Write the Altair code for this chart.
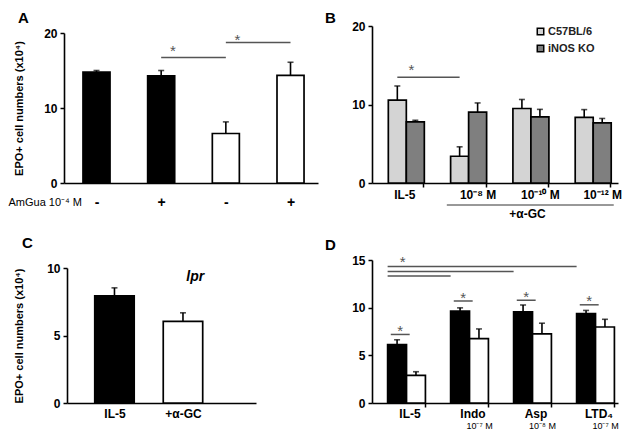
import json
import altair as alt
import pandas as pd

FONT = "Liberation Sans"
W = 245
H = 200

# ---------------- Panel A ----------------
a_ticks = ["-", "+", "-", "+"]
a_values = [14.8, 14.3, 6.6, 14.35]
a_err = [0.2, 0.7, 1.55, 1.75]
a_fill = ["black", "black", "white", "white"]
a_sig_from = [1, 2]
a_sig_to = [2, 3]
a_sig_y = [16.75, 18.75]
a_star_y = [18.0, 19.5]

# ---------------- Panel B ----------------
b_groups = ["IL-5", "10⁻⁸ M", "10⁻¹⁰ M", "10⁻¹² M"]
b_series = ["C57BL/6", "iNOS KO"]
b_wt = [10.56, 3.41, 9.49, 8.35]
b_wt_err = [1.8, 1.2, 1.15, 1.0]
b_ko = [7.79, 9.03, 8.43, 7.66]
b_ko_err = [0.2, 1.17, 0.95, 0.56]
b_sig_from = [0]
b_sig_to = [1]
b_sig_y = [13.46]
b_star_y = [14.8]
b_bracket_label = "+α-GC"

# ---------------- Panel C ----------------
c_groups = ["IL-5", "+α-GC"]
c_values = [7.93, 6.04]
c_err = [0.6, 0.64]
c_fill = ["black", "white"]
c_note = "lpr"

# ---------------- Panel D ----------------
d_groups = ["IL-5", "Indo", "Asp", "LTD₄"]
d_doses = ["", "10⁻⁷ M", "10⁻⁸ M", "10⁻⁷ M"]
d_black = [6.13, 9.65, 9.55, 9.37]
d_black_err = [0.5, 0.33, 0.73, 0.34]
d_white = [2.90, 6.76, 7.26, 7.97]
d_white_err = [0.38, 1.01, 1.11, 0.81]
d_pair_y = [7.19, 10.7, 10.78, 10.3]
d_pair_star_y = [7.85, 11.35, 11.4, 11.0]
d_long_to = [1, 2, 3]
d_long_y = [13.32, 13.8, 14.33]
d_long_star_y = [15.1]

Y_TITLE = "EPO+ cell numbers (x10⁴)"
SIG_COLOR = "#555555"

ROW1_BOTTOM = 172
ROW2_BOTTOM = 184


def sc(domain, rng):
    return alt.Scale(domain=domain, range=rng, nice=False, zero=False)


def yaxis(values, title=None, titleX=None, offset=0):
    kw = dict(values=values, format="d", tickSize=4, tickWidth=1.5, tickColor="black",
              domainColor="black", domainWidth=1.6, labelFontSize=12, labelFontWeight="bold",
              labelColor="black", labelPadding=3, grid=False, offset=offset, title=title)
    if title is not None:
        kw.update(titleX=titleX, titleFontSize=11, titleFontWeight="bold", titleColor="black")
    return alt.Axis(**kw)


def label_expr(labels):
    return json.dumps(labels, ensure_ascii=False) + "[datum.value]"


def build(xs, ys, xa, ya, bars, fill_enc, sigs, stars, extra):
    X = lambda f: alt.X(f, type="quantitative", scale=xs, axis=xa)
    Y = lambda f: alt.Y(f, type="quantitative", scale=ys, axis=ya)
    layers = []
    layers.append(alt.Chart(bars).mark_bar(stroke="black", strokeWidth=1.7).encode(
        x=X("x0"), x2="x1:Q", y=Y("v"), y2=alt.datum(0), fill=fill_enc))
    layers.append(alt.Chart(bars).mark_rule(color="black", strokeWidth=1.6).encode(
        x=X("xc"), y=Y("v"), y2="top:Q"))
    layers.append(alt.Chart(bars).mark_tick(orient="horizontal", size=6, thickness=1.6,
                                             color="black").encode(x=X("xc"), y=Y("top")))
    if sigs is not None:
        layers.append(alt.Chart(sigs).mark_rule(color=SIG_COLOR, strokeWidth=1.5).encode(
            x=X("s0"), x2="s1:Q", y=Y("sy")))
    if stars is not None:
        layers.append(alt.Chart(stars).mark_text(text="*", fontSize=15, color=SIG_COLOR,
                                                  baseline="alphabetic", dy=8).encode(
            x=X("sx"), y=Y("sty")))
    for e in extra:
        layers.append(e(X, Y))
    return alt.layer(*layers).properties(width=W, height=H)


def letter(ch, x, y):
    return lambda X, Y: alt.Chart(pd.DataFrame({"t": [ch]})).mark_text(
        align="left", baseline="top", fontSize=15, fontWeight="bold", color="black").encode(
        text="t:N", x=alt.value(x), y=alt.value(y))


# ---------- A ----------
a_idx = list(range(len(a_values)))
ha = 0.209
a_bars = pd.DataFrame({"x0": [i - ha for i in a_idx], "x1": [i + ha for i in a_idx],
                       "xc": a_idx, "v": a_values,
                       "top": [v + e for v, e in zip(a_values, a_err)], "fill": a_fill})
a_sigs = pd.DataFrame({"s0": a_sig_from, "s1": a_sig_to, "sy": a_sig_y})
a_stars = pd.DataFrame({"sx": [f + 0.18 for f in a_sig_from], "sty": a_star_y})
xsA = sc([-0.5026, 3.425], [0, 254])
ysA = sc([0, 20], [ROW1_BOTTOM, 22])
xaA = alt.Axis(values=a_idx, labelExpr=label_expr(a_ticks), tickSize=0, domainColor="black",
               domainWidth=1.6, labelFontSize=14, labelFontWeight="bold", labelColor="black",
               labelBaseline="middle", labelPadding=19, labelAngle=0, labelFlush=False,
               labelOverlap=False, grid=False, offset=-(H - ROW1_BOTTOM),
               title="AmGua 10⁻⁴ M", titleX=-56, titleY=19, titleAlign="left",
               titleBaseline="middle", titleFontSize=11, titleFontWeight="normal",
               titleColor="black", titleAngle=0)
yaA = yaxis([0, 10, 20], Y_TITLE, -40)
chartA = build(xsA, ysA, xaA, yaA, a_bars, alt.Fill("fill:N", scale=None),
               a_sigs, a_stars, [letter("A", -46, 0)])

# ---------- B ----------
hb = 0.289
b_rows = []
for i, g in enumerate(b_groups):
    b_rows.append({"x0": i - hb, "x1": i, "xc": i - hb / 2, "v": b_wt[i],
                   "top": b_wt[i] + b_wt_err[i], "series": b_series[0]})
    b_rows.append({"x0": i, "x1": i + hb, "xc": i + hb / 2, "v": b_ko[i],
                   "top": b_ko[i] + b_ko_err[i], "series": b_series[1]})
b_bars = pd.DataFrame(b_rows)
b_sigs = pd.DataFrame({"s0": [f - hb / 2 for f in b_sig_from],
                       "s1": [t - hb / 2 for t in b_sig_to], "sy": b_sig_y})
b_stars = pd.DataFrame({"sx": [f + 0.08 for f in b_sig_from], "sty": b_star_y})
xsB = sc([-0.551, 3.398], [0, 246])
ysB = sc([0, 20], [ROW1_BOTTOM, 15])
xaB = alt.Axis(values=list(range(len(b_groups))), labelExpr=label_expr(b_groups),
               tickSize=4, tickWidth=1.5, tickColor="black", tickOffset=17,
               labelOffset={"condition": {"test": "datum.value == 0", "value": -19}, "value": -8},
               labelPadding=2, labelFontSize=12, labelFontWeight="bold", labelColor="black",
               labelAngle=0, labelFlush=False, labelOverlap=False,
               domainColor="black", domainWidth=1.6, grid=False, offset=-(H - ROW1_BOTTOM),
               title=b_bracket_label, titleX=155, titleY=30, titleBaseline="middle",
               titleAlign="center", titleFontSize=12, titleFontWeight="bold", titleColor="black")
yaB = yaxis([0, 10, 20])
fillB = alt.Fill("series:N", scale=alt.Scale(domain=b_series, range=["#d4d4d4", "#7f7f7f"]),
                 legend=alt.Legend(orient="none", legendX=163, legendY=15, title=None,
                                   symbolType="square", symbolSize=42,
                                   symbolStrokeColor="black", symbolStrokeWidth=1.5,
                                   labelFontSize=11, labelFontWeight="bold",
                                   labelColor="#222222", labelOffset=2, rowPadding=4,
                                   padding=0, direction="vertical"))
b_bracket = pd.DataFrame({"s0": [1 - 0.35], "s1": [3 + 0.33]})


def b_bracket_layer(X, Y):
    return alt.Chart(b_bracket).mark_rule(color="#333333", strokeWidth=1).encode(
        x=X("s0"), x2="s1:Q", y=alt.value(ROW1_BOTTOM + 22))


chartB = build(xsB, ysB, xaB, yaB, b_bars, fillB, b_sigs, b_stars,
               [b_bracket_layer, letter("B", -47, 0)])

# ---------- C ----------
hc = 0.288
c_idx = list(range(len(c_values)))
c_bars = pd.DataFrame({"x0": [i - hc for i in c_idx], "x1": [i + hc for i in c_idx],
                       "xc": c_idx, "v": c_values,
                       "top": [v + e for v, e in zip(c_values, c_err)], "fill": c_fill})
xsC = sc([-0.693, 2.066], [3, 192])
ysC = sc([0, 10], [ROW2_BOTTOM, 49])
xaC = alt.Axis(values=c_idx, labelExpr=label_expr(c_groups), tickSize=0, labelPadding=5,
               labelFontSize=12, labelFontWeight="bold", labelColor="black", labelAngle=0,
               labelFlush=False, labelOverlap=False, domainColor="black", domainWidth=1.6,
               grid=False, offset=-(H - ROW2_BOTTOM), title=None)
yaC = yaxis([0, 5, 10], Y_TITLE, -43, offset=-3)
c_note_df = pd.DataFrame({"nx": [1.18], "ny": [9.3], "t": [c_note]})


def c_note_layer(X, Y):
    return alt.Chart(c_note_df).mark_text(fontStyle="italic", fontWeight="bold", fontSize=14,
                                          baseline="middle", align="center",
                                          color="black").encode(
        x=X("nx"), y=Y("ny"), text="t:N")


chartC = build(xsC, ysC, xaC, yaC, c_bars, alt.Fill("fill:N", scale=None),
               None, None, [c_note_layer, letter("C", -42, 17)])

# ---------- D ----------
hd = 0.30
d_rows = []
for i, g in enumerate(d_groups):
    d_rows.append({"x0": i - hd, "x1": i, "xc": i - hd / 2, "v": d_black[i],
                   "top": d_black[i] + d_black_err[i], "fill": "black"})
    d_rows.append({"x0": i, "x1": i + hd, "xc": i + hd / 2, "v": d_white[i],
                   "top": d_white[i] + d_white_err[i], "fill": "white"})
d_bars = pd.DataFrame(d_rows)
d_idx = list(range(len(d_groups)))
d_sigs = pd.DataFrame({
    "s0": [i - 0.25 for i in d_idx] + [-hd for _ in d_long_to],
    "s1": [i + 0.05 for i in d_idx] + [t - hd for t in d_long_to],
    "sy": d_pair_y + d_long_y})
d_stars = pd.DataFrame({"sx": [i - 0.1 for i in d_idx] + [-0.06],
                        "sty": d_pair_star_y + d_long_star_y})
xsD = sc([-0.548, 3.357], [0, 246])
ysD = sc([0, 15], [ROW2_BOTTOM, 41])
xaD = alt.Axis(values=d_idx, labelExpr=label_expr(d_groups), tickSize=4, tickWidth=1.5,
               tickColor="black", tickOffset=18, labelOffset=-15, labelPadding=1,
               labelFontSize=12, labelFontWeight="bold", labelColor="black", labelAngle=0,
               labelFlush=False, labelOverlap=False, domainColor="black", domainWidth=1.6,
               grid=False, offset=-(H - ROW2_BOTTOM), title=None)
yaD = yaxis([0, 5, 10, 15])
d_dose_df = pd.DataFrame({"xc": d_idx, "t": d_doses})
d_dose_df = d_dose_df[d_dose_df["t"] != ""]


def d_dose_layer(X, Y):
    return alt.Chart(d_dose_df).mark_text(fontSize=9, dx=10, baseline="middle",
                                          align="center", color="black").encode(
        x=X("xc"), y=alt.value(ROW2_BOTTOM + 23), text="t:N")


chartD = build(xsD, ysD, xaD, yaD, d_bars, alt.Fill("fill:N", scale=None),
               d_sigs, d_stars, [d_dose_layer, letter("D", -47, 19)])

chart = alt.concat(chartA, chartB, chartC, chartD, columns=2, bounds="flush",
                   spacing={"row": 8, "column": 63}).resolve_scale(
    x="independent", y="independent", fill="independent").properties(
    padding={"left": 0, "top": 3, "right": 0, "bottom": 0}).configure(
    font=FONT).configure_view(stroke=None)

chart.save("out.html", embed_options={"renderer": "svg", "actions": False})
